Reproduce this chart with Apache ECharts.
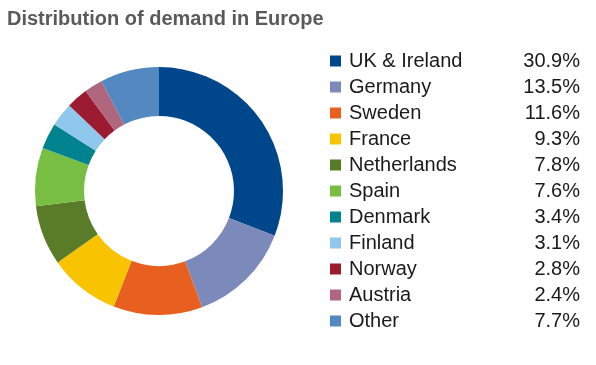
<!DOCTYPE html>
<html><head><meta charset="utf-8">
<script src="https://cdn.jsdelivr.net/npm/echarts@6/dist/echarts.min.js"></script>
<style>html,body{margin:0;padding:0;background:#fff}#c{width:596px;height:365px}</style>
</head><body><div id="c"></div>
<script>
var categories = ["UK & Ireland","Germany","Sweden","France","Netherlands","Spain","Denmark","Finland","Norway","Austria","Other"];
var values = [30.9,13.5,11.6,9.3,7.8,7.6,3.4,3.1,2.8,2.4,7.7];
var colors = ["#00468b","#7b8aba","#e8601f","#f8c300","#5a7b27","#78be43","#00838f","#8fc8ec","#9b1b30","#b0667c","#5488c0"];

var chart = echarts.init(document.getElementById('c'));
chart.setOption({
  animation: false,
  title: {
    text: 'Distribution of demand in Europe',
    left: 2, top: 4,
    textStyle: {fontFamily: 'Liberation Sans', fontWeight: 'bold', fontSize: 20, color: '#5a5a5a'}
  },
  legend: {
    orient: 'vertical', left: 325, top: 46,
    icon: 'rect', itemWidth: 11, itemHeight: 11, itemGap: 6,
    data: categories,
    formatter: function(name){
      var i = categories.indexOf(name);
      return '{n|' + name + '}{v|' + values[i].toFixed(1) + '%}';
    },
    textStyle: {
      fontFamily: 'Liberation Sans', fontSize: 20, color: '#1a1a1a',
      rich: {
        n: {fontFamily: 'Liberation Sans', fontSize: 20, color: '#1a1a1a', width: 171, padding: [0,0,0,3], lineHeight: 20},
        v: {fontFamily: 'Liberation Sans', fontSize: 20, color: '#1a1a1a', width: 60, align: 'right', lineHeight: 20}
      }
    }
  },
  series: [{
    type: 'pie',
    center: [159, 191],
    radius: [75, 124],
    startAngle: 90,
    clockwise: true,
    label: {show: false},
    labelLine: {show: false},
    itemStyle: {borderWidth: 0},
    emphasis: {disabled: true},
    data: categories.map(function(c, i){ return {name: c, value: values[i], itemStyle: {color: colors[i]}}; })
  }]
});
</script>
</body></html>
